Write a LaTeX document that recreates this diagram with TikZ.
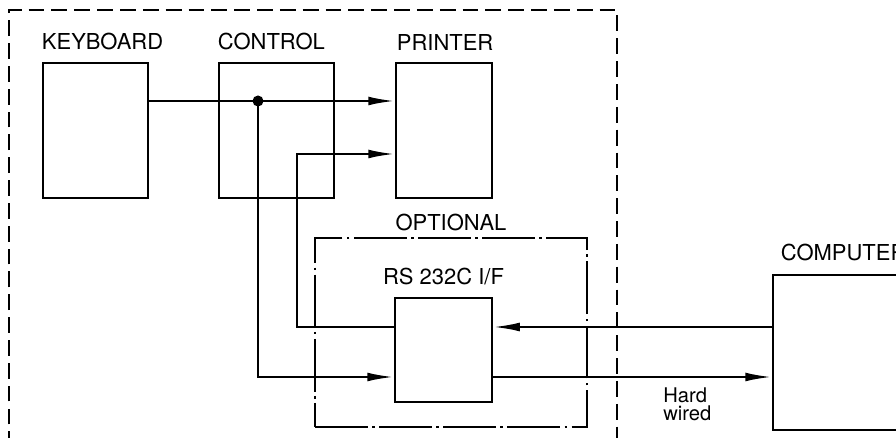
\documentclass[tikz,border=0pt]{standalone}
\usepackage{fontspec}
\setmainfont{TeX Gyre Heros}
\usetikzlibrary{arrows.meta,positioning,calc}

\begin{document}
\begin{tikzpicture}[
  x=0.02cm, y=-0.02cm,
  font=\fontsize{12.5}{13}\selectfont,
  unit/.style={draw, line width=1.6pt, inner sep=0pt},
  lbl/.style={inner sep=0pt},
  wire/.style={line width=1.25pt},
  sig/.style={wire, -{Latex[length=15pt, width=5pt]}},
  outline/.style={line width=1.1pt, dash pattern=on 9pt off 4pt},
  optbox/.style={draw, line width=1.1pt, inner sep=0pt,
    dash pattern=on 30pt off 2.5pt on 1.5pt off 2.5pt}
]
\clip (0,0) rectangle (896,438);
% terminal outline
\draw[outline] (9,470) -- (9,10) -- (617,10) -- (617,470);
% units
\node[unit, minimum width=2.1cm, minimum height=2.7cm] (kbd) at (95.5,130.5) {};
\node[unit, minimum width=2.3cm, minimum height=2.7cm] (ctl) at (276.5,130.5) {};
\node[unit, minimum width=1.92cm, minimum height=2.7cm] (prn) at (444,130.5) {};
\node[optbox, minimum width=5.44cm, minimum height=3.78cm] (opt) at (451,332.5) {};
\node[unit, minimum width=1.94cm, minimum height=2.08cm] (rs) at (443.5,350) {};
\node[unit, minimum width=3.2cm, minimum height=3.1cm] (pc) at (853,352.5) {};
% labels
\node[lbl, above right=0.22cm and 0cm of kbd.north west] (kbdlbl) {KEYBOARD};
\node[lbl, above right=0.22cm and 0cm of ctl.north west] (ctllbl) {CONTROL};
\node[lbl, above right=0.22cm and 0.04cm of prn.north west] (prnlbl) {PRINTER};
\node[lbl, above=0.12cm of opt] (optlbl) {OPTIONAL};
\node[lbl, above=0.22cm of rs] (rslbl) {RS 232C I/F};
\node[lbl, above right=0.24cm and 0.18cm of pc.north west] (pclbl) {COMPUTER};
\node[lbl, align=left, anchor=north west, font=\fontsize{11.5}{10.5}\selectfont]
  (hw) at (663,387) {Hard\\wired};
% connections
\coordinate (tap) at (258,101);
\draw[wire] (kbd.east |- tap) -- (tap);
\draw[sig] (tap) -- (prn.west |- tap);
\draw[sig] (tap) |- (rs.west |- 0,377);
\fill (tap) circle[radius=5.5];
\draw[sig] (rs.west |- 0,327) -| (297,154) -- (prn.west |- 0,154);
\draw[sig] (pc.west |- 0,327) -- (rs.east |- 0,327);
\draw[sig] (rs.east |- 0,377) -- (pc.west |- 0,377);
\end{tikzpicture}
\end{document}
